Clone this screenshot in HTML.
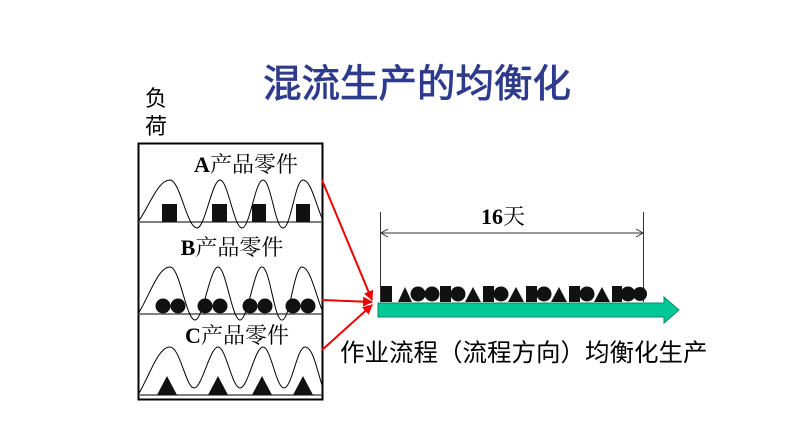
<!DOCTYPE html>
<html><head><meta charset="utf-8"><style>
html,body{margin:0;padding:0;background:#fff;}
svg{display:block}
text{font-family:"Liberation Serif","Noto Serif CJK SC","Noto Sans CJK SC",serif;}
</style></head><body>
<svg width="808" height="432" viewBox="0 0 808 432" xmlns="http://www.w3.org/2000/svg">
<defs>
<marker id="ra" markerWidth="10" markerHeight="10" refX="9" refY="5" orient="auto" markerUnits="userSpaceOnUse"><path d="M0,0 L10,5 L0,10 z" fill="#e00"/></marker>
</defs>
<text x="417" y="97" font-size="38.5" fill="#2e3a8c" text-anchor="middle" style="font-family:'Noto Sans CJK SC',sans-serif" stroke="#2e3a8c" stroke-width="0.8">混流生产的均衡化</text>
<text x="145" y="106" font-size="22" style="font-family:'Noto Sans CJK SC',sans-serif">负</text>
<text x="145" y="134" font-size="22" style="font-family:'Noto Sans CJK SC',sans-serif">荷</text>
<rect x="138.5" y="143.5" width="184" height="256" fill="none" stroke="#000" stroke-width="2"/>
<g stroke="#555" stroke-width="1.5"><line x1="138" y1="222" x2="322" y2="222"/><line x1="138" y1="314" x2="322" y2="314"/><line x1="138" y1="395" x2="322" y2="395"/></g>
<g font-size="22" font-weight="bold" text-anchor="middle">
<text x="246" y="172">A<tspan font-weight="normal">产品零件</tspan></text>
<text x="232" y="255">B<tspan font-weight="normal">产品零件</tspan></text>
<text x="237" y="343">C<tspan font-weight="normal">产品零件</tspan></text>
<text x="503" y="224">16<tspan font-weight="normal">天</tspan></text>
</g>
<g fill="none" stroke="#000" stroke-width="1">
<path d="M138,222 C150,205 158,180 170,180 C180,180 187,228 197,228 C205,228 212,180 220,180 C228,180 234,228 242,228 C250,228 255,180 263,180 C271,180 275,228 283,228 C291,228 295,180 303,180 C311,180 316,205 322,218"/>
<path d="M138,314 C150,295 158,267 170,267 C180,267 186,320 195,320 C203,320 210,267 218,267 C226,267 232,320 240,320 C248,320 254,267 262,267 C270,267 274,320 282,320 C290,320 294,267 302,267 C310,267 316,295 322,310"/>
<path d="M138,395 C150,375 158,347 170,347 C180,347 186,388 194,388 C202,388 210,347 218,347 C226,347 232,388 240,388 C248,388 255,347 263,347 C271,347 276,388 284,388 C292,388 297,347 305,347 C313,347 317,370 322,385"/>
</g>
<g fill="#111">
<rect x="162" y="204" width="15" height="18"/><rect x="212" y="204" width="15" height="18"/><rect x="252" y="204" width="14" height="18"/><rect x="296" y="204" width="14" height="18"/>
<circle cx="163" cy="306" r="7.5"/><circle cx="178" cy="306" r="7.5"/><circle cx="205" cy="306" r="7.5"/><circle cx="220" cy="306" r="7.5"/><circle cx="250" cy="306" r="7.5"/><circle cx="265" cy="306" r="7.5"/><circle cx="293" cy="306" r="7.5"/><circle cx="308" cy="306" r="7.5"/>
<path d="M157,395 L167,376 L177,395z M208,395 L218,376 L228,395z M252,395 L262,376 L272,395z M293,395 L303,376 L313,395z"/>
</g>
<g stroke="#e00" stroke-width="2" fill="none">
<line x1="322" y1="180" x2="372" y2="300" marker-end="url(#ra)"/>
<line x1="322" y1="300" x2="372" y2="302" marker-end="url(#ra)"/>
<line x1="322" y1="350" x2="372" y2="305" marker-end="url(#ra)"/>
</g>
<g stroke="#333" stroke-width="1">
<line x1="380.5" y1="212" x2="380.5" y2="302"/><line x1="643.5" y1="212" x2="643.5" y2="302"/>
<line x1="381" y1="233" x2="643" y2="233"/>
<path d="M388,229 L381,233 L388,237 M636,229 L643,233 L636,237" fill="none"/>
</g>
<path d="M378,303 L664,303 L664,297 L679,310 L664,323 L664,317 L378,317z" fill="#00c896" stroke="#0a8a6a" stroke-width="1"/>
<g fill="#111">
<rect x="381" y="286" width="11" height="16"/>
<path d="M398,302 L405,287 L412,302z"/>
<circle cx="418" cy="294" r="7.5"/><circle cx="432" cy="294" r="7.5"/>
<rect x="440" y="286" width="11" height="16"/>
<circle cx="458" cy="294" r="7.5"/>
<path d="M465,302 L473,287 L481,302z"/>
<rect x="483" y="286" width="11" height="16"/>
<circle cx="501" cy="294" r="7.5"/>
<path d="M508,302 L516,287 L524,302z"/>
<rect x="526" y="286" width="11" height="16"/>
<circle cx="544" cy="294" r="7.5"/>
<path d="M551,302 L559,287 L567,302z"/>
<rect x="569" y="286" width="11" height="16"/>
<circle cx="587" cy="294" r="7.5"/>
<path d="M594,302 L602,287 L610,302z"/>
<rect x="612" y="286" width="10" height="16"/>
<circle cx="628" cy="294" r="7.5"/><circle cx="640" cy="294" r="7"/>
</g>
<text x="340" y="361" font-size="24.5" style="font-family:'Noto Sans CJK SC',sans-serif">作业流程（流程方向）均衡化生产</text>
</svg>
</body></html>
